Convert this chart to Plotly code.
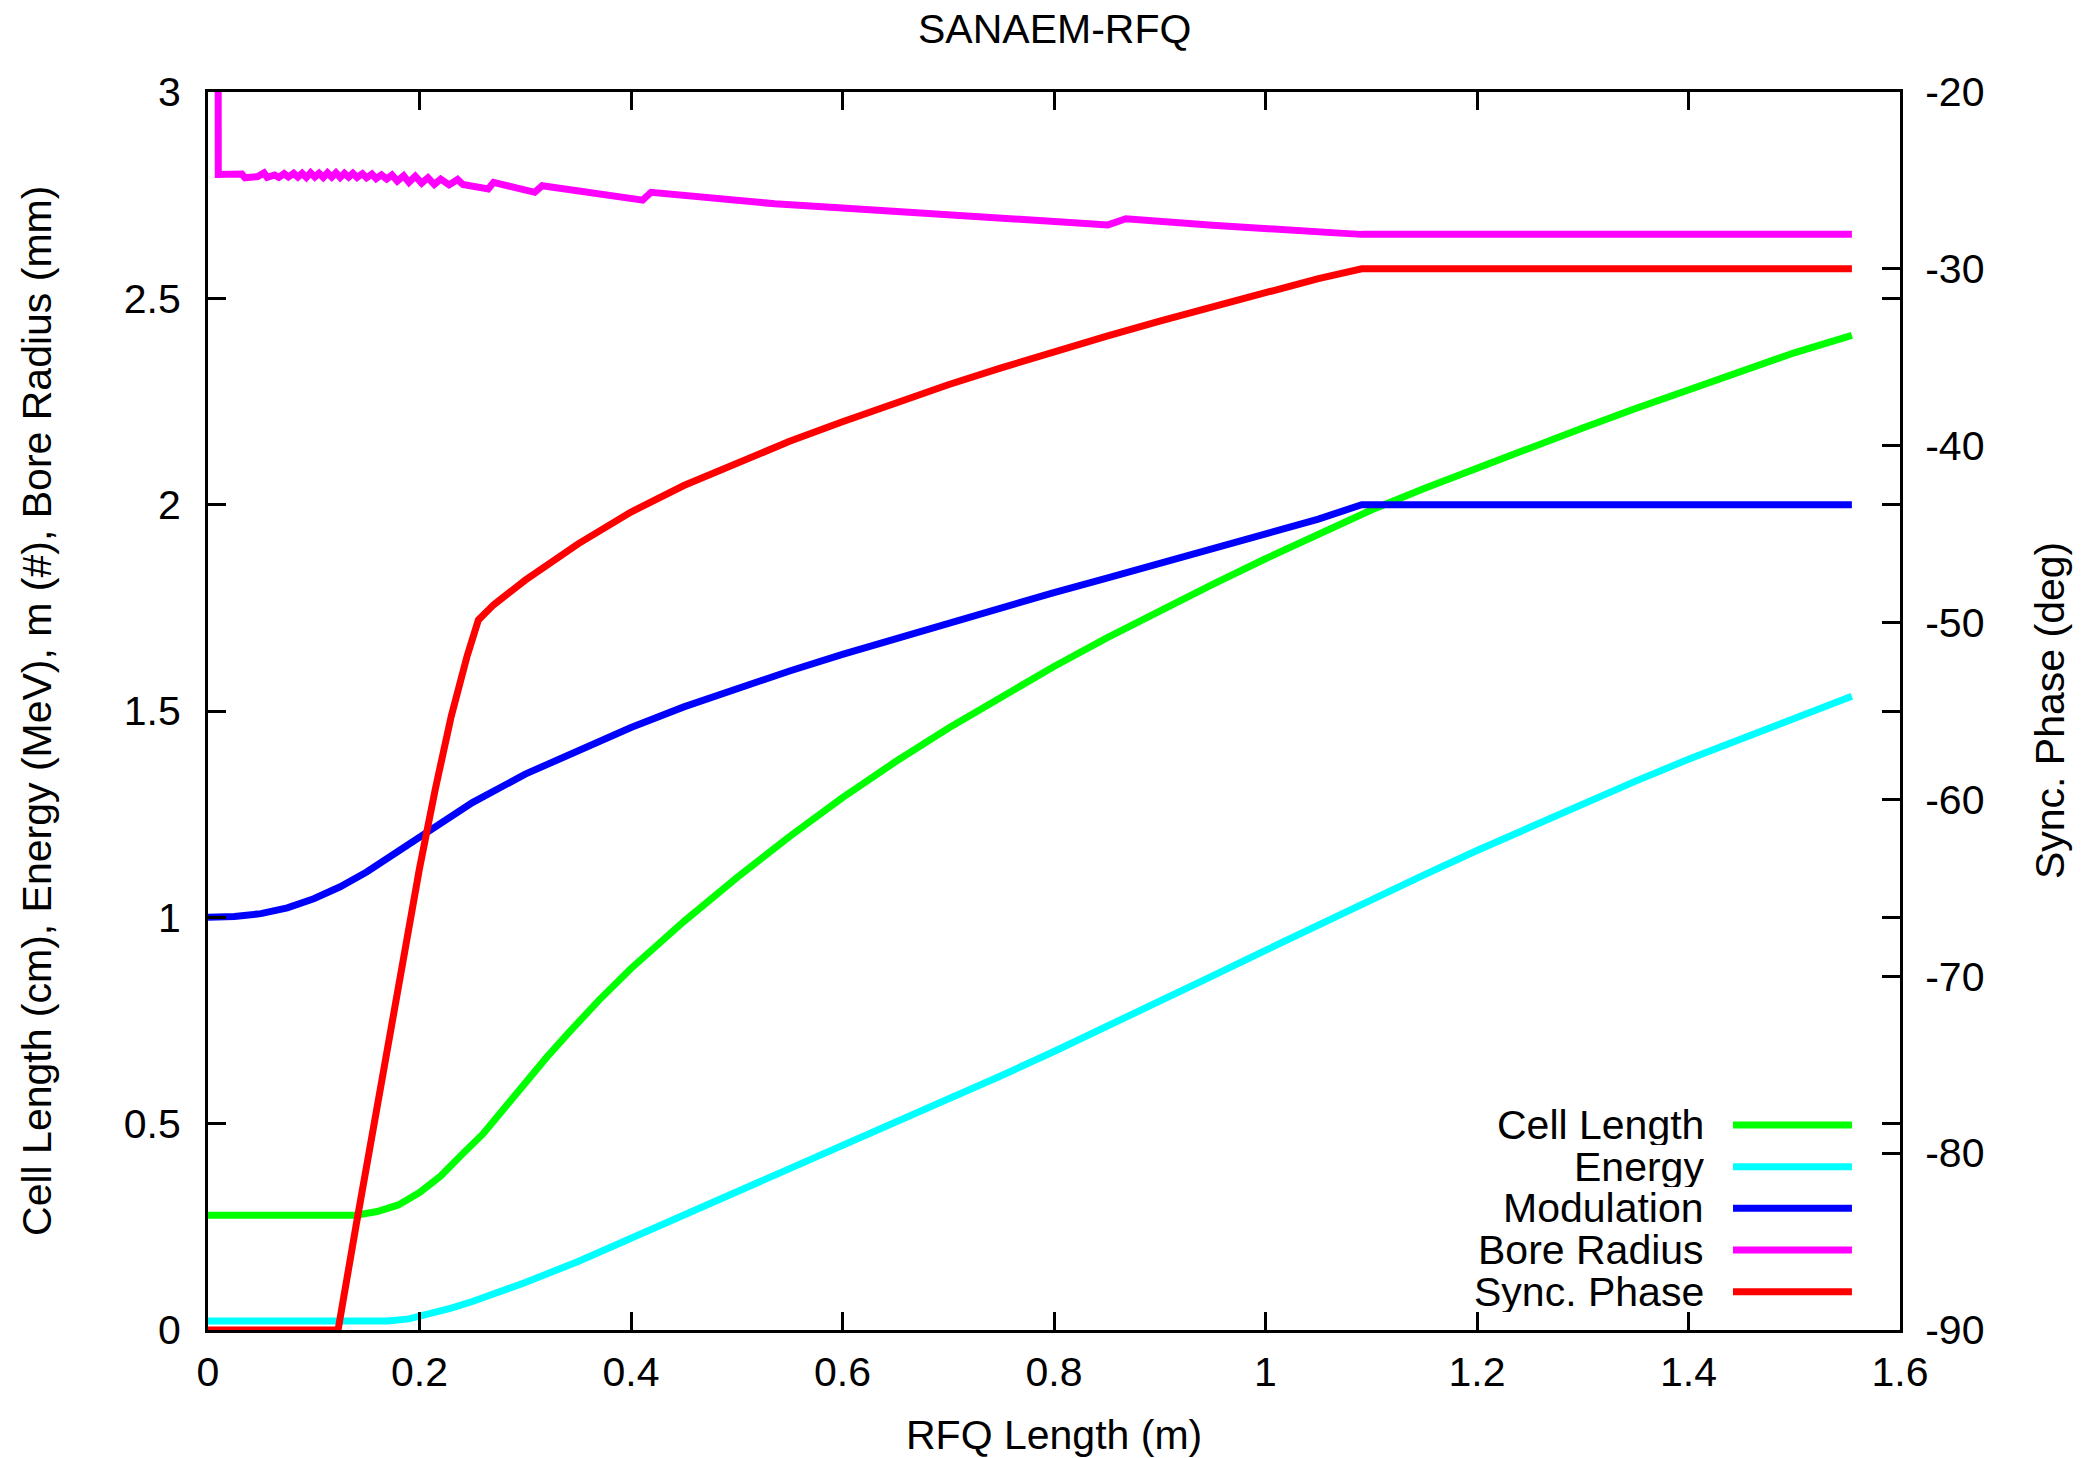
import plotly.graph_objects as go

# ---------------- data ----------------
cell_x = [0, 0.14, 0.16, 0.18, 0.2, 0.22, 0.24, 0.26, 0.28, 0.3, 0.32, 0.342, 0.37, 0.4,
          0.45, 0.5, 0.55, 0.6, 0.65, 0.7, 0.75, 0.8, 0.85, 0.9, 0.95, 1.0, 1.05, 1.1,
          1.15, 1.2, 1.25, 1.3, 1.35, 1.4, 1.45, 1.5, 1.5545]
cell_y = [0.278, 0.278, 0.287, 0.303, 0.333, 0.373, 0.425, 0.475, 0.537, 0.600, 0.660, 0.723, 0.800, 0.876,
          0.990, 1.096, 1.196, 1.290, 1.377, 1.458, 1.535, 1.608, 1.677, 1.743, 1.807, 1.869, 1.929, 1.987,
          2.039, 2.089, 2.138, 2.186, 2.233, 2.279, 2.324, 2.368, 2.410]

energy_x = [0, 0.17, 0.19, 0.21, 0.23, 0.25, 0.275, 0.3, 0.35, 0.4, 0.45, 0.5, 0.55, 0.6,
            0.65, 0.7, 0.75, 0.8, 0.85, 0.9, 0.95, 1.0, 1.05, 1.1, 1.15, 1.2, 1.25, 1.3,
            1.35, 1.4, 1.45, 1.5, 1.5545]
energy_y = [0.022, 0.022, 0.027, 0.039, 0.053, 0.069, 0.090, 0.115, 0.166, 0.222, 0.280, 0.337, 0.392, 0.447,
            0.502, 0.558, 0.616, 0.675, 0.735, 0.796, 0.858, 0.920, 0.982, 1.043, 1.103, 1.162, 1.219, 1.275,
            1.330, 1.383, 1.434, 1.484, 1.536]

mod_x = [0, 0.025, 0.05, 0.075, 0.1, 0.125, 0.15, 0.175, 0.2, 0.25, 0.3, 0.35, 0.4, 0.45, 0.5,
         0.55, 0.6, 0.65, 0.7, 0.75, 0.8, 0.85, 0.9, 0.95, 1.0, 1.05, 1.091, 1.5545]
mod_y = [1.0, 1.002, 1.009, 1.023, 1.045, 1.074, 1.11, 1.151, 1.194, 1.278, 1.347, 1.405, 1.460, 1.510, 1.555,
         1.597, 1.637, 1.675, 1.713, 1.752, 1.787, 1.822, 1.857, 1.892, 1.927, 1.965, 2.0, 2.0]

bore_x = [0.0095, 0.0097, 0.032, 0.035, 0.047, 0.053, 0.056, 0.063, 0.067, 0.072, 0.076, 0.081,
          0.085, 0.089, 0.093, 0.097, 0.101, 0.105, 0.109, 0.113, 0.117, 0.121, 0.125, 0.129,
          0.133, 0.137, 0.141, 0.146, 0.150, 0.155, 0.159, 0.164, 0.169, 0.174, 0.179, 0.185,
          0.190, 0.196, 0.202, 0.208, 0.214, 0.220, 0.228, 0.236, 0.241, 0.265, 0.270, 0.309,
          0.316, 0.411, 0.419, 0.536, 0.6, 0.7, 0.8, 0.851, 0.868, 0.95, 1.07, 1.091, 1.5545]
bore_y = [3.5, 2.800, 2.801, 2.792, 2.795, 2.804, 2.793, 2.799, 2.793, 2.802, 2.794, 2.803,
          2.794, 2.803, 2.793, 2.804, 2.794, 2.803, 2.793, 2.804, 2.794, 2.804, 2.793, 2.803,
          2.794, 2.803, 2.793, 2.802, 2.792, 2.801, 2.790, 2.799, 2.789, 2.799, 2.784, 2.797,
          2.781, 2.796, 2.779, 2.792, 2.776, 2.789, 2.775, 2.788, 2.776, 2.765, 2.781, 2.757,
          2.773, 2.738, 2.757, 2.729, 2.719, 2.703, 2.686, 2.678, 2.693, 2.677, 2.658, 2.655, 2.655]

phase_x = [0, 0.123, 0.14, 0.16, 0.18, 0.2, 0.215, 0.23, 0.245, 0.2557, 0.27, 0.3, 0.35,
           0.4, 0.45, 0.5, 0.55, 0.6, 0.65, 0.7, 0.75, 0.8, 0.85, 0.9, 0.95, 1.0, 1.05,
           1.091, 1.5545]
phase_y = [-90, -90, -84.1, -77.2, -70.4, -63.9, -59.4, -55.3, -51.9, -49.85, -49.0, -47.6, -45.55,
           -43.75, -42.25, -40.95, -39.75, -38.65, -37.55, -36.55, -35.6, -34.68, -33.8, -32.95, -32.12,
           -31.3, -30.55, -30, -30]

series_names = ["Cell Length", "Energy", "Modulation", "Bore Radius", "Sync. Phase"]
series_colors = ["#00ff00", "#00ffff", "#0000ff", "#ff00ff", "#ff0000"]

x_tickvals = [0, 0.2, 0.4, 0.6, 0.8, 1.0, 1.2, 1.4, 1.6]
x_ticktext = ["0", "0.2", "0.4", "0.6", "0.8", "1", "1.2", "1.4", "1.6"]
y_tickvals = [0, 0.5, 1, 1.5, 2, 2.5, 3]
y_ticktext = ["0", "0.5", "1", "1.5", "2", "2.5", "3"]
y2_tickvals = [-90, -80, -70, -60, -50, -40, -30, -20]
y2_ticktext = ["-90", "-80", "-70", "-60", "-50", "-40", "-30", "-20"]

title_text = "SANAEM-RFQ"
x_title = "RFQ Length (m)"
y_title = "Cell Length (cm), Energy (MeV), m (#), Bore Radius (mm)"
y2_title = "Sync. Phase (deg)"

# ---------------- figure ----------------
FONT = "Liberation Sans, Arial, Helvetica, sans-serif"
FS = 41
LW = 7

fig = go.Figure()
data_sets = [(cell_x, cell_y, "y"), (energy_x, energy_y, "y"), (mod_x, mod_y, "y"),
             (bore_x, bore_y, "y"), (phase_x, phase_y, "y2")]
for (xs, ys, ax), name, col in zip(data_sets, series_names, series_colors):
    fig.add_trace(go.Scatter(x=xs, y=ys, yaxis=ax, mode="lines", name=name,
                             line=dict(color=col, width=LW), showlegend=False))

axis_common = dict(showgrid=False, zeroline=False, showline=True, linecolor="black",
                   linewidth=3, ticks="inside", ticklen=18, tickwidth=2.5,
                   tickcolor="black", tickfont=dict(family=FONT, size=FS, color="black"))

fig.update_layout(
    width=2083, height=1458,
    margin=dict(l=208, r=183, t=92, b=128, autoexpand=False),
    paper_bgcolor="white", plot_bgcolor="white",
    font=dict(family=FONT, size=FS, color="black"),
    xaxis=dict(range=[0, 1.6], tickvals=x_tickvals, ticktext=x_ticktext,
               mirror="ticks", ticklabelstandoff=4, **axis_common),
    yaxis=dict(range=[0, 3], tickvals=y_tickvals, ticktext=y_ticktext,
               mirror="ticks", ticklabelstandoff=16, **axis_common),
    yaxis2=dict(range=[-90, -20], tickvals=y2_tickvals, ticktext=y2_ticktext,
                overlaying="y", side="right", ticklabelstandoff=14, **axis_common),
    showlegend=False,
)

ann = []
ann.append(dict(text=title_text, x=0.5, y=1.0509, xref="paper", yref="paper",
                xanchor="center", yanchor="middle", showarrow=False,
                font=dict(family=FONT, size=FS)))
ann.append(dict(text=x_title, x=0.5, y=-0.0848, xref="paper", yref="paper",
                xanchor="center", yanchor="middle", showarrow=False,
                font=dict(family=FONT, size=FS)))
ann.append(dict(text=y_title, x=-0.1011, y=0.5, xref="paper", yref="paper",
                xanchor="center", yanchor="middle", showarrow=False, textangle=-90,
                font=dict(family=FONT, size=FS)))
ann.append(dict(text=y2_title, x=1.0887, y=0.5, xref="paper", yref="paper",
                xanchor="center", yanchor="middle", showarrow=False, textangle=-90,
                font=dict(family=FONT, size=FS)))

legend_rows = [0.1656, 0.1319, 0.0983, 0.0646, 0.0309]
shapes = []
for name, col, ry in zip(series_names, series_colors, legend_rows):
    ann.append(dict(text=name, x=0.8853, y=ry, xref="paper", yref="paper",
                    xanchor="right", yanchor="middle", showarrow=False, height=40,
                    font=dict(family=FONT, size=FS)))
    shapes.append(dict(type="line", xref="paper", yref="paper", x0=0.9013, x1=0.9716,
                       y0=ry, y1=ry, line=dict(color=col, width=LW)))

fig.update_layout(annotations=ann, shapes=shapes)
# remove the browser's default 8px body margin so the figure fills the window exactly
fig.write_html("out.html", config={"displayModeBar": False},
               post_script="document.body.style.margin='0';document.body.style.overflow='hidden';")
